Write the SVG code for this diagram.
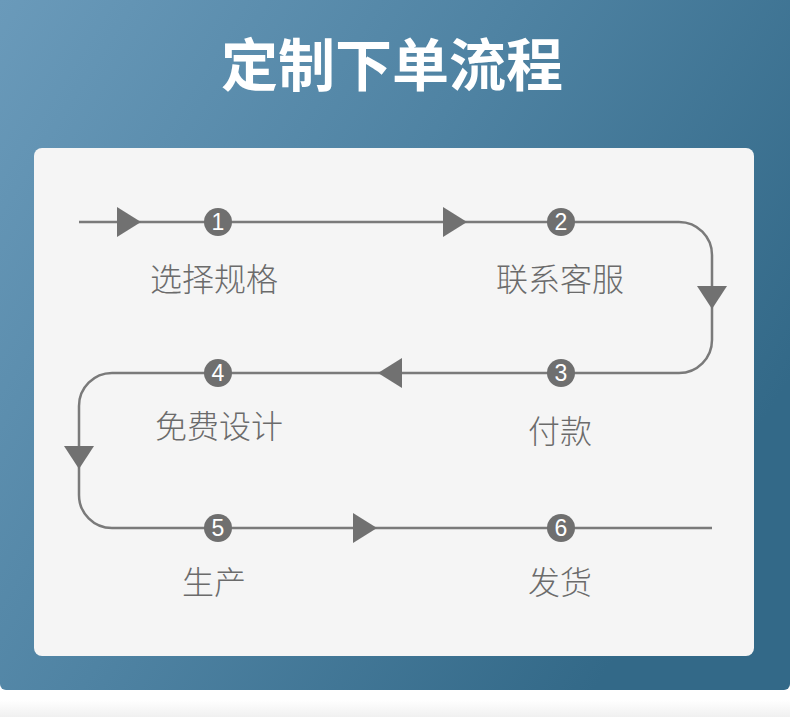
<svg xmlns="http://www.w3.org/2000/svg" width="790" height="717" viewBox="0 0 790 717">
<defs>
<linearGradient id="bg" x1="0" y1="0" x2="1" y2="0.55">
<stop offset="0" stop-color="#6a9aba"/>
<stop offset="0.5" stop-color="#4f83a3"/>
<stop offset="1" stop-color="#336988"/>
</linearGradient>
<linearGradient id="sh" x1="0" y1="0" x2="0" y2="1">
<stop offset="0" stop-color="#ffffff"/>
<stop offset="1" stop-color="#e6e6e6"/>
</linearGradient>
<style>
.ln{fill:none;stroke:#7a7a7a;stroke-width:2.5}
.ar{fill:#717171}
.dot{fill:#6f6f6f}
.num{font-family:"Liberation Sans","Noto Sans",sans-serif;font-size:23px;fill:#ffffff;text-anchor:middle}
.lbl{font-family:"Noto Sans CJK SC","Noto Sans",sans-serif;font-size:32px;font-weight:300;fill:#6b6b6b;text-anchor:middle}
.ttl{font-family:"Noto Sans CJK SC","Noto Sans",sans-serif;font-size:57px;font-weight:700;fill:#ffffff;text-anchor:middle}
</style>
</defs>
<rect x="0" y="0" width="790" height="717" fill="#ffffff"/>
<rect x="0" y="700" width="790" height="17" fill="url(#sh)" opacity="0.6"/>
<path d="M0 0H790V684a6 6 0 0 1 -6 6H6a6 6 0 0 1 -6 -6Z" fill="url(#bg)"/>
<text class="ttl" x="392" y="86">定制下单流程</text>
<rect x="34" y="148" width="720" height="508" rx="8" fill="#f5f5f5"/>
<g id="connectors">
<path class="ln" d="M79 222H679a33 33 0 0 1 33 33V340a33 33 0 0 1 -33 33H112a33 33 0 0 0 -33 33V495a33 33 0 0 0 33 33H712"/>
<polygon class="ar" points="117,207 141,222 117,237"/>
<polygon class="ar" points="443,207 467,222 443,237"/>
<polygon class="ar" points="697,286 727,286 712,309"/>
<polygon class="ar" points="402,358 378,373 402,388"/>
<polygon class="ar" points="64,446 94,446 79,469"/>
<polygon class="ar" points="353,513 377,528 353,543"/>
</g>
<g id="node1"><circle class="dot" cx="218" cy="222" r="14"/><text class="num" x="218" y="230">1</text><text class="lbl" x="214" y="291">选择规格</text></g>
<g id="node2"><circle class="dot" cx="561" cy="222" r="14"/><text class="num" x="561" y="230">2</text><text class="lbl" x="560" y="291">联系客服</text></g>
<g id="node3"><circle class="dot" cx="561" cy="373" r="14"/><text class="num" x="561" y="381">3</text><text class="lbl" x="560" y="443">付款</text></g>
<g id="node4"><circle class="dot" cx="218" cy="373" r="14"/><text class="num" x="218" y="381">4</text><text class="lbl" x="219" y="438">免费设计</text></g>
<g id="node5"><circle class="dot" cx="218" cy="528" r="14"/><text class="num" x="218" y="536">5</text><text class="lbl" x="214" y="594">生产</text></g>
<g id="node6"><circle class="dot" cx="561" cy="528" r="14"/><text class="num" x="561" y="536">6</text><text class="lbl" x="560" y="594">发货</text></g>
</svg>
